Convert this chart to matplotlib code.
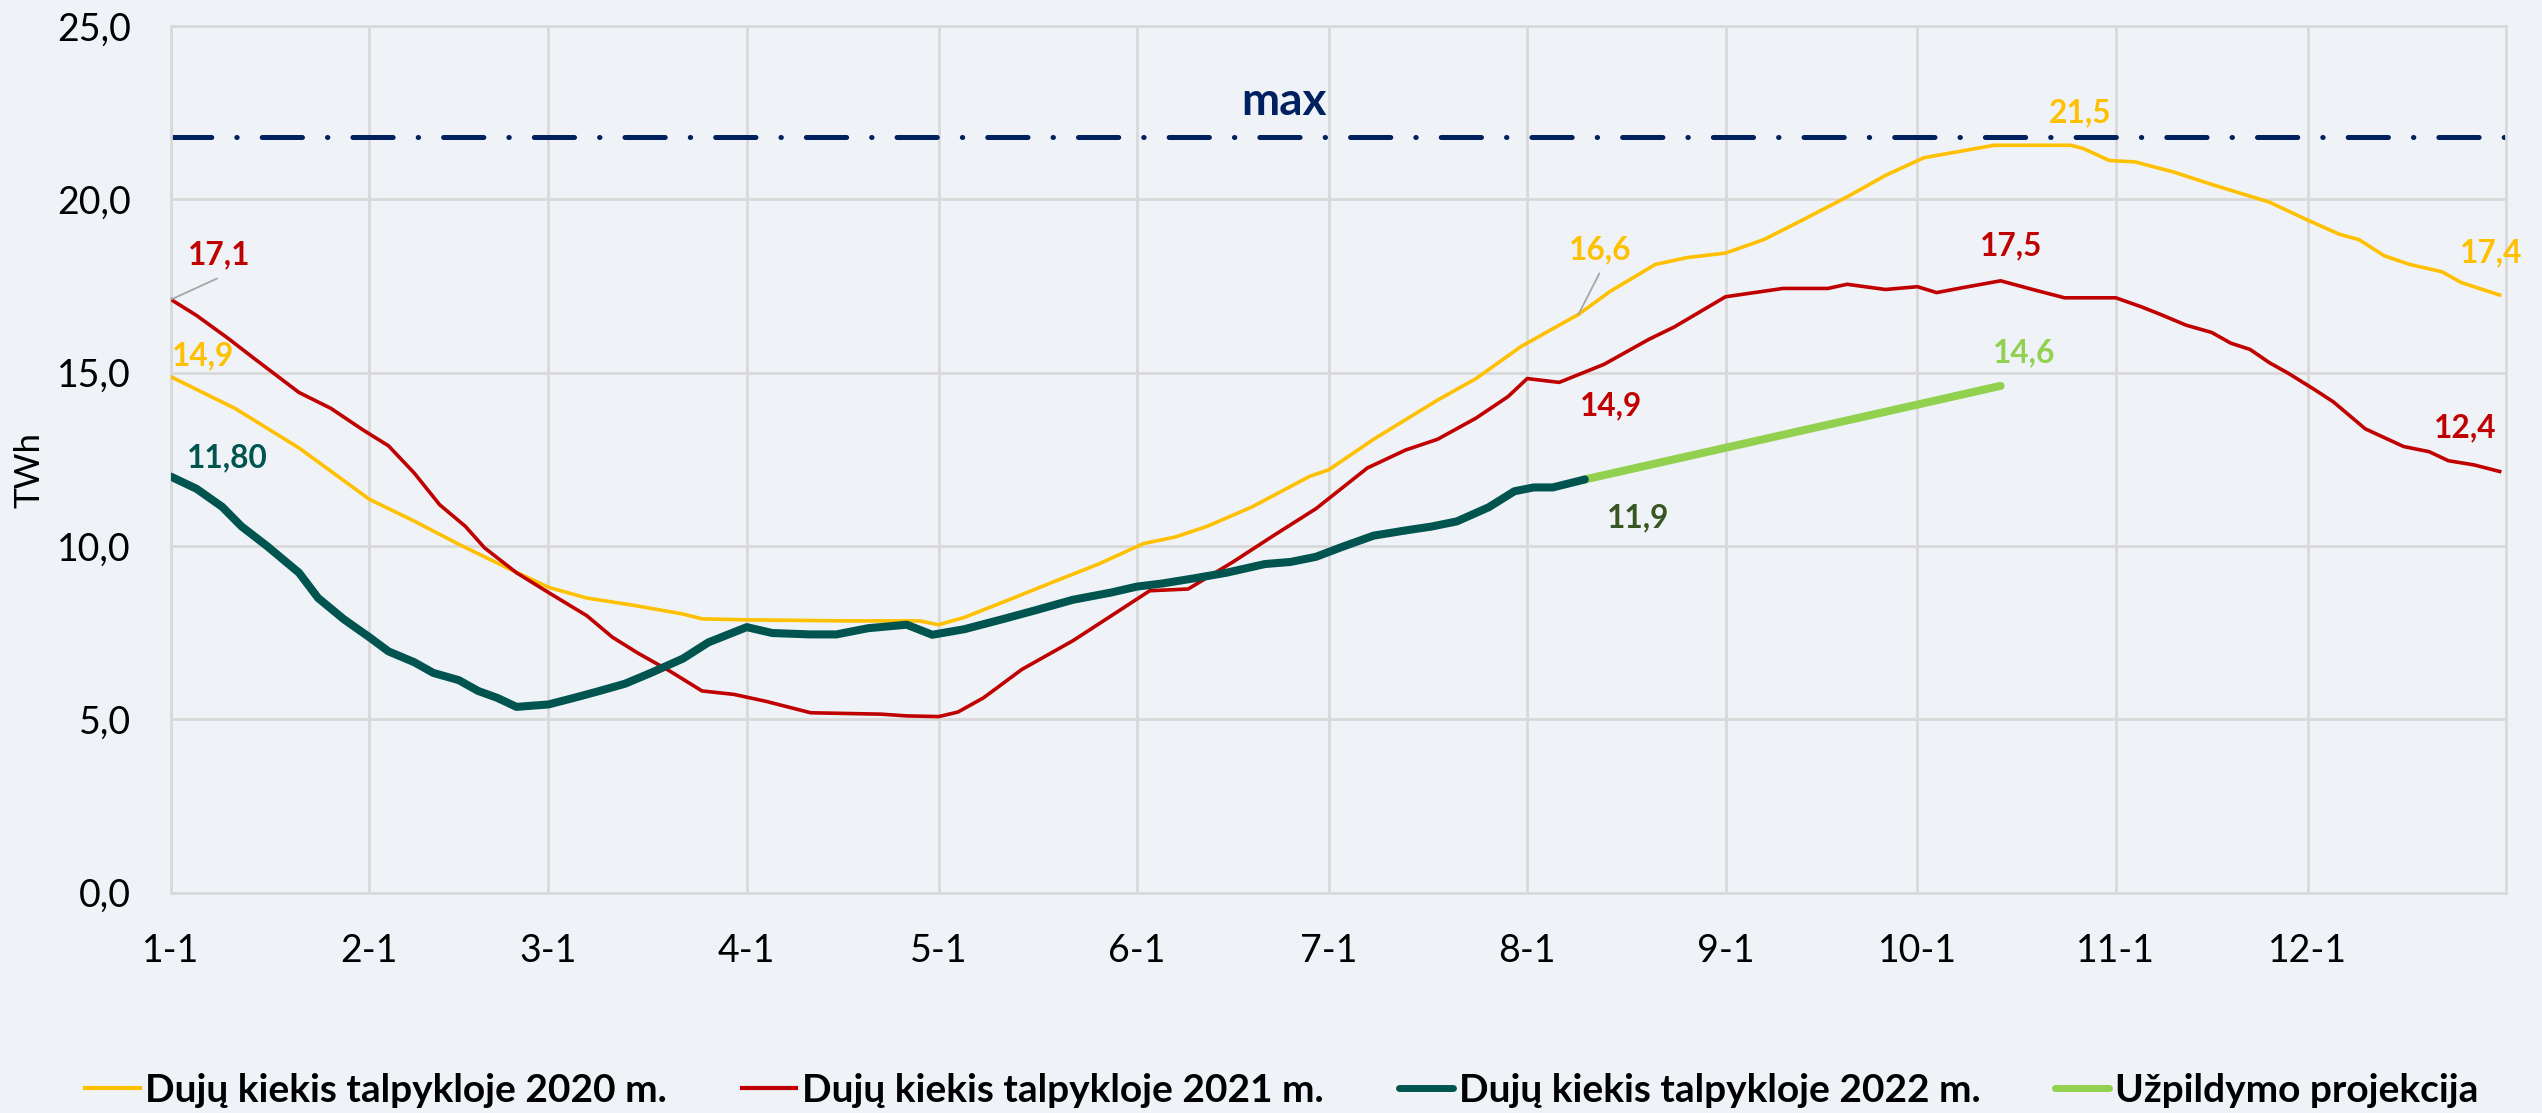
import matplotlib
matplotlib.use("Agg")
import matplotlib.pyplot as plt
from matplotlib.lines import Line2D

plt.rcParams['font.family'] = ['Lato', 'DejaVu Sans']

# ---------------- data (day of year, TWh) ----------------
month_ticks = [0, 31, 59, 90, 120, 151, 181, 212, 243, 273, 304, 334]
month_labels = ["1-1", "2-1", "3-1", "4-1", "5-1", "6-1", "7-1", "8-1", "9-1", "10-1", "11-1", "12-1"]
y_ticks = [0, 5, 10, 15, 20, 25]

days_2020 = [0, 10, 20, 31, 38, 45, 53, 59, 65, 72, 80, 83, 90, 106, 117, 120, 124, 131, 138, 145,
             152, 157, 162, 169, 178, 181, 188, 198, 204, 211, 220, 225, 232, 237, 243, 249, 255,
             262, 268, 274, 285, 297, 299, 303, 307, 313, 319, 328, 334, 339, 342, 346, 350, 355,
             358, 364]
vals_2020 = [14.88, 13.97, 12.83, 11.35, 10.72, 10.05, 9.33, 8.81, 8.50, 8.30, 8.04, 7.90, 7.87,
             7.84, 7.84, 7.73, 7.94, 8.45, 8.97, 9.48, 10.07, 10.26, 10.57, 11.13, 12.01, 12.20,
             13.08, 14.21, 14.83, 15.75, 16.68, 17.35, 18.12, 18.32, 18.45, 18.84, 19.40, 20.07,
             20.69, 21.20, 21.56, 21.56, 21.46, 21.12, 21.08, 20.79, 20.43, 19.92, 19.40, 18.99,
             18.84, 18.37, 18.12, 17.91, 17.60, 17.24]

days_2021 = [0, 4, 9, 13, 17, 20, 25, 30, 34, 38, 42, 46, 49, 54, 59, 65, 69, 73, 78, 83, 88, 93,
             100, 111, 115, 120, 123, 127, 133, 141, 147, 153, 159, 166, 172, 179, 187, 193, 198,
             204, 209, 212, 217, 224, 231, 235, 243, 252, 259, 262, 268, 273, 276, 280, 286, 291,
             296, 304, 308, 311, 315, 319, 322, 325, 328, 331, 335, 338, 343, 349, 353, 356, 360,
             364]
vals_2021 = [17.11, 16.65, 15.98, 15.41, 14.85, 14.43, 13.97, 13.35, 12.89, 12.11, 11.19, 10.57,
             9.95, 9.23, 8.66, 7.99, 7.37, 6.91, 6.39, 5.82, 5.72, 5.52, 5.19, 5.15, 5.10, 5.08,
             5.21, 5.62, 6.44, 7.27, 7.99, 8.71, 8.76, 9.54, 10.26, 11.08, 12.25, 12.77, 13.08,
             13.69, 14.31, 14.83, 14.72, 15.24, 15.96, 16.32, 17.19, 17.43, 17.43, 17.55, 17.40,
             17.48, 17.31, 17.45, 17.65, 17.40, 17.16, 17.16, 16.90, 16.68, 16.37, 16.16, 15.85,
             15.67, 15.29, 14.98, 14.52, 14.16, 13.38, 12.87, 12.72, 12.46, 12.34, 12.15]

days_2022 = [0, 4, 8, 11, 15, 20, 23, 27, 31, 34, 38, 41, 45, 48, 51, 54, 59, 63, 67, 71, 75, 80,
             84, 90, 94, 100, 104, 109, 115, 119, 124, 130, 135, 141, 147, 151, 155, 160, 165, 171,
             175, 179, 183, 188, 193, 197, 201, 206, 210, 213, 216, 221]
vals_2022 = [12.00, 11.65, 11.13, 10.57, 10.00, 9.23, 8.50, 7.89, 7.37, 6.96, 6.65, 6.34, 6.13,
             5.82, 5.62, 5.36, 5.43, 5.62, 5.82, 6.03, 6.34, 6.75, 7.22, 7.66, 7.49, 7.45, 7.45,
             7.63, 7.73, 7.44, 7.60, 7.89, 8.14, 8.45, 8.66, 8.83, 8.92, 9.07, 9.23, 9.48, 9.54,
             9.69, 9.97, 10.30, 10.45, 10.56, 10.71, 11.12, 11.58, 11.69, 11.69, 11.92]

days_proj = [221, 286]
vals_proj = [11.92, 14.62]

max_level = 21.8

series_names = ["Dujų kiekis talpykloje 2020 m.", "Dujų kiekis talpykloje 2021 m.",
                "Dujų kiekis talpykloje 2022 m.", "Užpildymo projekcija"]

# ---------------- style ----------------
BG = "#EFF3F7"
GRID = "#D9D9D9"
C20 = "#FFC000"
C21 = "#C00000"
C22 = "#00544F"
CPR = "#92D050"
NAVY = "#002060"
OLIVE = "#375623"
LEAD = "#A6A6A6"

W, H = 2542, 1113
fig = plt.figure(figsize=(W / 100, H / 100), dpi=100, facecolor=BG)
ax = fig.add_axes([171 / W, 1 - 892.7 / H, (2506 - 171) / W, (892.7 - 26) / H])
ax.set_facecolor(BG)

ax.set_xlim(0, 365)
ax.set_ylim(0, 25)
ax.set_xticks(month_ticks)
ax.set_xticklabels(month_labels)
ax.set_yticks(y_ticks)
ax.set_yticklabels([f"{v:.1f}".replace(".", ",") for v in y_ticks])
ax.tick_params(axis='both', length=0, labelsize=27, colors="black")
ax.tick_params(axis='y', pad=29)
ax.tick_params(axis='x', pad=29)
ax.grid(True, color=GRID, linewidth=2.0)
ax.set_axisbelow(True)
for s in ax.spines.values():
    s.set_color(GRID)
    s.set_linewidth(2.0)

# max line
mx = ax.axhline(max_level, color=NAVY, linewidth=3.6, zorder=2)
mx.set_dash_capstyle('round')
mx.set_dashes([29 / 3.6, 18 / 3.6, 0.3 / 3.6, 18 / 3.6])

l20, = ax.plot(days_2020, vals_2020, color=C20, linewidth=2.6, zorder=3, solid_joinstyle='round')
l21, = ax.plot(days_2021, vals_2021, color=C21, linewidth=2.6, zorder=4, solid_joinstyle='round')
l22, = ax.plot(days_2022, vals_2022, color=C22, linewidth=5.8, zorder=6,
               solid_capstyle='round', solid_joinstyle='round')
lpr, = ax.plot(days_proj, vals_proj, color=CPR, linewidth=5.8, zorder=5, solid_capstyle='round')

# ---------------- labels ----------------
PT = 0.72  # px -> pt at 100 dpi


def label(text, x, y, dx_px, dy_px, color, leader=None, size=22.8):
    # dx/dy: offset (px) from data point to text centre (cap centre)
    cap_px = size / PT * 0.7165
    kw = dict(textcoords='offset points', ha='center', va='baseline', color=color,
              fontsize=size, fontweight='bold', zorder=10, annotation_clip=False)
    ax.annotate(text, xy=(x, y), xytext=(dx_px * PT, (dy_px - cap_px / 2) * PT), **kw)
    if leader is not None:
        lx, ly = leader
        ax.annotate("", xy=(x, y), xytext=(lx * PT, ly * PT), textcoords='offset points',
                    arrowprops=dict(arrowstyle='-', color=LEAD, lw=1.3, shrinkA=0, shrinkB=0),
                    zorder=9, annotation_clip=False)


label("17,1", days_2021[0], vals_2021[0], 48, 47, C21, leader=(46, 21))
label("14,9", days_2020[0], vals_2020[0], 32, 23, C20)
label("11,80", days_2022[0], vals_2022[0], 56, 21, C22)
label("16,6", days_2020[30], vals_2020[30], 22, 66, C20, leader=(21, 41))
label("21,5", days_2020[41], vals_2020[41], 9, 34, C20)
label("17,5", days_2021[54], vals_2021[54], 10, 37, C21)
label("14,6", days_proj[-1], vals_proj[-1], 23, 35, CPR)
label("14,9", days_2021[41], vals_2021[41], 84, -25, C21)
label("11,9", days_2022[-1], vals_2022[-1], 53, -37, OLIVE)
label("17,4", days_2020[-1], vals_2020[-1], -9, 44, C20)
label("12,4", days_2021[-1], vals_2021[-1], -34, 46, C21)
label("max", 174, max_level, 0, 38.5, NAVY, size=33)

fig.text(29 / W, 1 - 470 / H, "TWh", rotation=90, ha='center', va='center', fontsize=25, color="black")

handles = [Line2D([], [], color=C20, lw=3.0), Line2D([], [], color=C21, lw=3.0),
           Line2D([], [], color=C22, lw=5.0, solid_capstyle='round'),
           Line2D([], [], color=CPR, lw=5.0, solid_capstyle='round')]
leg = fig.legend(handles, series_names, loc='center', bbox_to_anchor=(1282 / W, 1 - 1090 / H),
                 ncol=4, frameon=False, prop=dict(size=28, weight='bold'),
                 handlelength=1.39, handletextpad=0.15, columnspacing=1.93, borderpad=0)

fig.savefig("out.png", dpi=100, facecolor=BG)
